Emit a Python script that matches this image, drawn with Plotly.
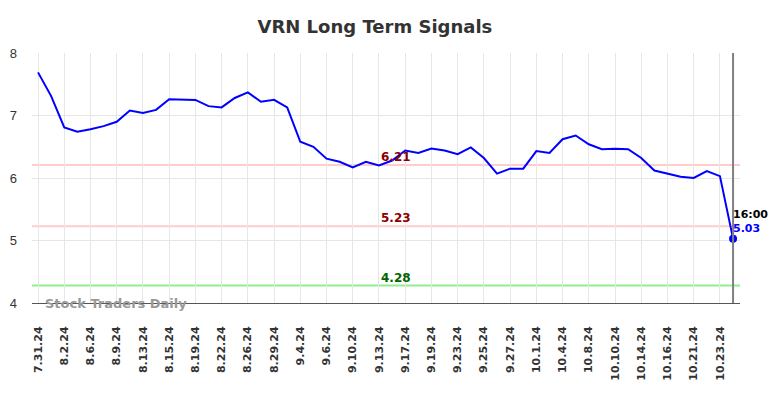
import plotly.graph_objects as go

dates = ["7.31.24","8.1.24","8.2.24","8.5.24","8.6.24","8.7.24","8.9.24","8.12.24","8.13.24","8.14.24",
         "8.15.24","8.16.24","8.19.24","8.20.24","8.22.24","8.23.24","8.26.24","8.27.24","8.29.24","8.30.24",
         "9.4.24","9.5.24","9.6.24","9.9.24","9.10.24","9.11.24","9.13.24","9.16.24","9.17.24","9.18.24",
         "9.19.24","9.20.24","9.23.24","9.24.24","9.25.24","9.26.24","9.27.24","9.30.24","10.1.24","10.2.24",
         "10.4.24","10.7.24","10.8.24","10.9.24","10.10.24","10.11.24","10.14.24","10.15.24","10.16.24","10.17.24",
         "10.21.24","10.22.24","10.23.24","10.24.24"]
prices = [7.69, 7.31, 6.81, 6.74, 6.78, 6.83, 6.90, 7.08, 7.04, 7.09,
          7.26, 7.25, 7.25, 7.15, 7.13, 7.28, 7.37, 7.22, 7.25, 7.13,
          6.58, 6.50, 6.31, 6.26, 6.17, 6.26, 6.20, 6.28, 6.44, 6.40,
          6.47, 6.44, 6.38, 6.49, 6.32, 6.07, 6.15, 6.15, 6.43, 6.40,
          6.62, 6.68, 6.54, 6.46, 6.47, 6.46, 6.32, 6.12, 6.07, 6.02,
          6.00, 6.11, 6.03, 5.03]
levels = [6.21, 5.23, 4.28]
level_line_colors = ["#ffcccc", "#ffcccc", "#90ee90"]
level_text_colors = ["#8b0000", "#8b0000", "#006400"]
last_time = "16:00"

x = list(range(len(prices)))
tick_idx = list(range(0, len(dates) - 1, 2))

fig = go.Figure()
fig.add_trace(go.Scatter(x=x, y=prices, mode="lines",
                         line=dict(color="#0000ff", width=2), hoverinfo="skip"))
fig.add_trace(go.Scatter(x=[x[-1]], y=[prices[-1]], mode="markers",
                         marker=dict(color="#0000ff", size=8), hoverinfo="skip"))

for lv, lc, tc in zip(levels, level_line_colors, level_text_colors):
    fig.add_shape(type="line", xref="paper", x0=0, x1=1, yref="y", y0=lv, y1=lv,
                  line=dict(color=lc, width=2), layer="below")
    fig.add_annotation(x=27.3, y=lv, xref="x", yref="y", text=f"<b>{lv:.2f}</b>",
                       showarrow=False, yanchor="bottom", yshift=-1,
                       font=dict(family="DejaVu Sans", size=12, color=tc))

fig.add_shape(type="line", xref="x", x0=x[-1], x1=x[-1], yref="paper", y0=0, y1=1,
              line=dict(color="#808080", width=2))
fig.add_annotation(x=x[-1], y=prices[-1], xref="x", yref="y",
                   text=f"<b>{last_time}</b>", showarrow=False, xanchor="left", yanchor="bottom",
                   xshift=-2, yshift=16, font=dict(family="DejaVu Sans", size=11, color="#000000"))
fig.add_annotation(x=x[-1], y=prices[-1], xref="x", yref="y",
                   text=f"<b>{prices[-1]:.2f}</b>", showarrow=False, xanchor="left", yanchor="bottom",
                   xshift=-2, yshift=2, font=dict(family="DejaVu Sans", size=11, color="#0000ff"))

fig.add_annotation(x=0.016, y=4.0, xref="paper", yref="y", text="<b>Stock Traders Daily</b>",
                   showarrow=False, xanchor="left", yanchor="middle",
                   font=dict(family="DejaVu Sans", size=13, color="#999999"))

fig.update_layout(
    width=784, height=398,
    margin=dict(l=24, r=52, t=45, b=103),
    paper_bgcolor="white", plot_bgcolor="white",
    showlegend=False,
    title=dict(text="<b>VRN Long Term Signals</b>", x=0.468, xanchor="center", y=0.952, yanchor="middle",
               font=dict(family="DejaVu Sans", size=18, color="#333333")),
    xaxis=dict(range=[-0.46, 53.53], tickmode="array", tickvals=tick_idx,
               ticktext=[dates[i] for i in tick_idx], tickangle=-90,
               tickfont=dict(family="DejaVu Sans", size=11, color="#333333", weight="bold"),
               showgrid=True, gridcolor="#e6e6e6", gridwidth=1, zeroline=False, automargin=False,
               showline=True, linecolor="#555555", linewidth=1, ticklabelstandoff=18),
    yaxis=dict(range=[4, 8], tickvals=[4, 5, 6, 7, 8], showgrid=True, gridcolor="#e6e6e6",
               zeroline=False, showline=False, automargin=False,
               tickfont=dict(family="Liberation Sans", size=13, color="#333333"), ticklabelstandoff=14),
)

fig.write_html("out.html")
